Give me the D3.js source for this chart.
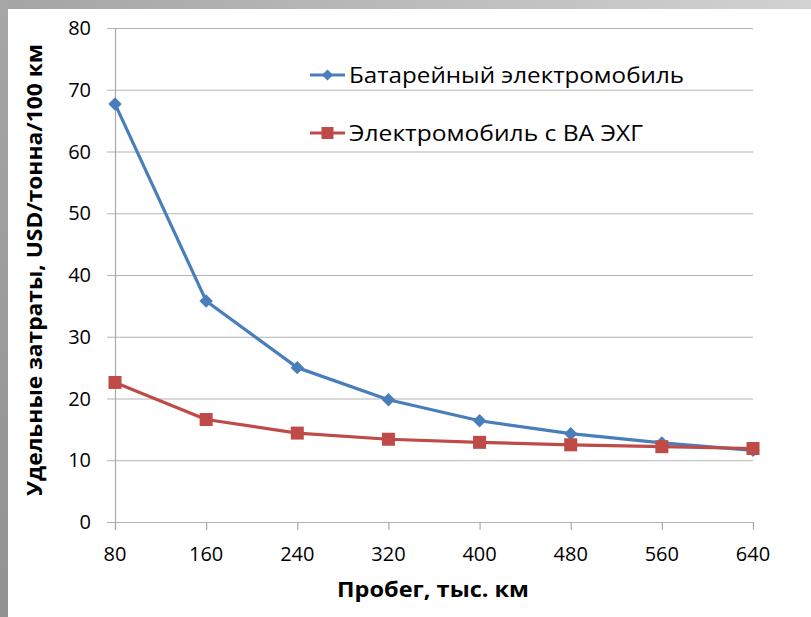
<!DOCTYPE html>
<html>
<head>
<meta charset="utf-8">
<script src="https://cdn.jsdelivr.net/npm/d3@7"></script>
<style>
  html, body { margin: 0; padding: 0; background: #fff; }
  svg { display: block; }
  text { font-family: "Open Sans", "Noto Sans", sans-serif; fill: #000; }
</style>
</head>
<body>
<div id="chart"></div>
<script>
// Mileage categories, thousand km
const mileage = [80, 160, 240, 320, 400, 480, 560, 640];
// Specific cost, USD per tonne per 100 km
const batteryEV = [67.7, 35.8, 25.0, 19.8, 16.4, 14.3, 12.8, 11.6];
const fuelCellEV = [22.6, 16.6, 14.4, 13.4, 12.9, 12.5, 12.2, 11.9];
const yTicks = [0, 10, 20, 30, 40, 50, 60, 70, 80];
const seriesNames = ["Батарейный электромобиль", "Электромобиль с ВА ЭХГ"];
const xTitle = "Пробег, тыс. км";
const yTitle = "Удельные затраты, USD/тонна/100 км";

const W = 811, H = 617;
const svg = d3.select("#chart").append("svg").attr("width", W).attr("height", H);

// frame gradients on the top and left edges
const defs = svg.append("defs");
const gTop = defs.append("linearGradient").attr("id", "gTop").attr("x1", 0).attr("x2", 1).attr("y1", 0).attr("y2", 0);
gTop.append("stop").attr("offset", 0).attr("stop-color", "#a4a4a4");
gTop.append("stop").attr("offset", 1).attr("stop-color", "#d2d2d2");
const gLeft = defs.append("linearGradient").attr("id", "gLeft").attr("x1", 0).attr("x2", 0).attr("y1", 0).attr("y2", 1);
gLeft.append("stop").attr("offset", 0).attr("stop-color", "#a6a6a6");
gLeft.append("stop").attr("offset", 1).attr("stop-color", "#929292");
svg.append("rect").attr("x", 0).attr("y", 0).attr("width", W).attr("height", 9).attr("fill", "url(#gTop)");
svg.append("rect").attr("x", 0).attr("y", 0).attr("width", 8).attr("height", H).attr("fill", "url(#gLeft)");

const x = d3.scalePoint().domain(mileage).range([115, 753]);
const y = d3.scaleLinear().domain([0, 80]).range([522, 28]);

// horizontal gridlines with tick stubs on the left
svg.append("g").selectAll("line").data(yTicks).join("line")
  .attr("x1", 107).attr("x2", 753)
  .attr("y1", d => y(d) + 0.5).attr("y2", d => y(d) + 0.5)
  .attr("stroke", "#b3b3b3").attr("stroke-width", 1.2);

// y axis line
svg.append("line").attr("x1", 115.5).attr("x2", 115.5).attr("y1", 28).attr("y2", 530)
  .attr("stroke", "#a8a8a8").attr("stroke-width", 1.2);

// x axis tick marks
svg.append("g").selectAll("line").data(mileage).join("line")
  .attr("x1", d => x(d) + 0.5).attr("x2", d => x(d) + 0.5)
  .attr("y1", 522).attr("y2", 530)
  .attr("stroke", "#a8a8a8").attr("stroke-width", 1.2);

// tick labels
svg.append("g").selectAll("text").data(yTicks).join("text")
  .attr("x", 91).attr("y", d => y(d)).attr("dy", "0.36em")
  .attr("text-anchor", "end").attr("font-size", 20).text(d => d);
svg.append("g").selectAll("text").data(mileage).join("text")
  .attr("x", d => x(d)).attr("y", 561)
  .attr("text-anchor", "middle").attr("font-size", 20).text(d => d);

// axis titles
svg.append("text").attr("x", 433).attr("y", 597).attr("text-anchor", "middle")
  .attr("font-size", 21).attr("font-weight", "bold")
  .attr("textLength", 192).attr("lengthAdjust", "spacingAndGlyphs").text(xTitle);
svg.append("text").attr("transform", "translate(42,270) rotate(-90)")
  .attr("text-anchor", "middle").attr("font-size", 21).attr("font-weight", "bold")
  .attr("textLength", 452).attr("lengthAdjust", "spacingAndGlyphs").text(yTitle);

const colors = ["#4a7ebb", "#be4b48"];
const line = d3.line().x((d, i) => x(mileage[i])).y(d => y(d));

// battery EV series with diamond markers
svg.append("path").datum(batteryEV).attr("d", line)
  .attr("fill", "none").attr("stroke", colors[0]).attr("stroke-width", 3.2).attr("stroke-linejoin", "round");
const diamond = d3.symbol().type(d3.symbolDiamond2).size(115);
svg.append("g").selectAll("path").data(batteryEV).join("path")
  .attr("transform", (d, i) => `translate(${x(mileage[i])},${y(d)})`)
  .attr("d", diamond()).attr("fill", colors[0]);

// fuel-cell EV series with square markers
svg.append("path").datum(fuelCellEV).attr("d", line)
  .attr("fill", "none").attr("stroke", colors[1]).attr("stroke-width", 3.2).attr("stroke-linejoin", "round");
svg.append("g").selectAll("rect").data(fuelCellEV).join("rect")
  .attr("x", (d, i) => x(mileage[i]) - 6.5).attr("y", d => y(d) - 6.5)
  .attr("width", 13).attr("height", 13).attr("fill", colors[1]);

// legend
const legendY = [75, 133];
const legendW = [335, 294];
const lg = svg.append("g");
seriesNames.forEach((name, i) => {
  lg.append("line").attr("x1", 310).attr("x2", 345).attr("y1", legendY[i]).attr("y2", legendY[i])
    .attr("stroke", colors[i]).attr("stroke-width", 3.2);
  if (i === 0) {
    lg.append("path").attr("transform", `translate(327.5,${legendY[i]})`)
      .attr("d", d3.symbol().type(d3.symbolDiamond2).size(80)()).attr("fill", colors[i]);
  } else {
    lg.append("rect").attr("x", 321.5).attr("y", legendY[i] - 6).attr("width", 12).attr("height", 12).attr("fill", colors[i]);
  }
  lg.append("text").attr("x", 349).attr("y", legendY[i] + 8)
    .attr("font-size", 22).attr("textLength", legendW[i]).attr("lengthAdjust", "spacingAndGlyphs").text(name);
});
</script>
</body>
</html>
